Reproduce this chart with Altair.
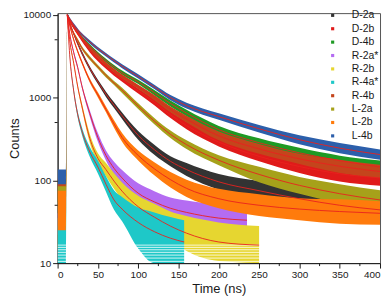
import altair as alt
import pandas as pd

NAMES = ["D-2a", "D-2b", "D-4b", "R-2a*", "R-2b", "R-4a*", "R-4b", "L-2a", "L-2b", "L-4b"]
COLORS = ["#333333", "#e01a1a", "#1e9a24", "#b46cf2", "#e6d630", "#1ec8c8",
          "#c4451c", "#a6a11a", "#ff7b0c", "#2c5fab"]

# time grids (ns)
T = [12, 15, 20, 25, 30, 40, 50, 60, 70, 80, 100, 120, 140, 160, 200, 250, 300, 350, 400]
T_R2A = [12, 15, 20, 25, 30, 40, 50, 60, 70, 80, 100, 120, 140, 160, 200, 235]
T_R2B = [12, 15, 20, 25, 30, 40, 50, 60, 70, 80, 100, 120, 140, 160, 200, 250]
T_R4A = [12, 15, 20, 25, 30, 40, 50, 60, 70, 80, 100, 120, 140, 157]

# pre-pulse baseline (t = 0 .. 10.5 ns), same order as NAMES
BASE_T = [0, 10.5]
BASE_LO = [40, 60, 55, 22, 15, 10, 55, 40, 25, 90]
BASE_HI = [90, 105, 100, 40, 35, 28, 95, 85, 75, 135]

# fitted curves and scatter extent (low / high counts)
D2A_FIT = [10000, 8000, 5900, 4500, 3500, 2250, 1550, 1100, 810, 605, 350, 235, 170, 135, 96, 75, 60, 50, 44]
D2A_LO = [9660, 7690, 5670, 4290, 3330, 2130, 1460, 1020, 747, 553, 310, 204, 148, 113, 77, 58, 44, 36, 30]
D2A_HI = [10350, 8320, 6140, 4730, 3680, 2370, 1640, 1180, 879, 662, 396, 270, 196, 162, 119, 98, 81, 70, 64]

D2B_FIT = [10000, 8500, 7000, 5900, 5000, 3700, 2900, 2350, 1950, 1650, 1200, 880, 620, 460, 290, 195, 147, 120, 107]
D2B_LO = [9660, 8170, 6730, 5670, 4810, 3520, 2750, 2230, 1840, 1560, 1120, 811, 566, 414, 257, 170, 123, 97, 86]
D2B_HI = [10350, 8840, 7280, 6140, 5200, 3890, 3060, 2480, 2070, 1750, 1290, 955, 679, 511, 328, 224, 176, 149, 133]

D4B_FIT = [10000, 8800, 7300, 6300, 5400, 4200, 3400, 2800, 2350, 2000, 1550, 1150, 850, 650, 410, 285, 215, 173, 145]
D4B_LO = [9660, 8500, 7020, 6060, 5190, 4000, 3240, 2650, 2230, 1890, 1460, 1070, 783, 594, 369, 252, 187, 150, 121]
D4B_HI = [10350, 9110, 7590, 6550, 5620, 4410, 3570, 2950, 2480, 2120, 1640, 1240, 922, 712, 455, 322, 247, 199, 174]

R2A_FIT = [10000, 6000, 3500, 2300, 1400, 640, 330, 200, 140, 107, 70, 55, 46, 41, 35, 33]
R2A_LO = [9660, 5770, 3330, 2180, 1320, 584, 292, 174, 117, 86, 53, 41, 34, 29, 24, 23]
R2A_HI = [10350, 6240, 3680, 2430, 1480, 701, 373, 230, 168, 133, 92, 74, 62, 57, 51, 48]

R2B_FIT = [10000, 5000, 2600, 1350, 800, 320, 185, 135, 98, 74, 48, 36, 28, 23, 18, 16.5]
R2B_LO = [9660, 4810, 2460, 1270, 737, 283, 161, 112, 79, 58, 36, 25, 19, 14, 10.6, 10]
R2B_HI = [10350, 5200, 2740, 1430, 868, 362, 213, 162, 122, 94, 65, 52, 42, 37, 31, 28]

R4A_FIT = [10000, 3300, 1200, 620, 400, 220, 145, 90, 58, 45, 31, 24, 20, 18]
R4A_LO = [9660, 3140, 1120, 566, 360, 191, 121, 73, 44, 32, 15, 10, 10, 10]
R4A_HI = [10350, 3470, 1290, 679, 444, 253, 174, 112, 76, 63, 47, 41, 36, 33]

R4B_FIT = [10000, 8600, 7100, 6100, 5200, 3950, 3150, 2550, 2130, 1800, 1350, 1000, 720, 550, 345, 240, 182, 148, 128]
R4B_LO = [9660, 8310, 6830, 5870, 5000, 3760, 3000, 2420, 2020, 1700, 1270, 930, 664, 502, 305, 209, 158, 123, 107]
R4B_HI = [10350, 8900, 7380, 6340, 5410, 4150, 3310, 2690, 2250, 1910, 1430, 1075, 781, 602, 390, 276, 209, 178, 154]

L2A_FIT = [10000, 7800, 6000, 4900, 4000, 3000, 2350, 1850, 1500, 1230, 790, 520, 360, 270, 175, 118, 87, 69, 58]
L2A_LO = [9660, 7500, 5770, 4670, 3810, 2840, 2230, 1750, 1420, 1140, 728, 475, 324, 239, 152, 95, 69, 53, 44]
L2A_HI = [10350, 8110, 6240, 5150, 4200, 3170, 2480, 1960, 1590, 1320, 857, 569, 400, 305, 201, 146, 110, 90, 76]

L2B_FIT = [10000, 7500, 5000, 3600, 2700, 1600, 1080, 720, 480, 330, 200, 138, 102, 80, 60, 50, 45, 42, 40]
L2B_LO = [9660, 7210, 4810, 3430, 2560, 1510, 1005, 664, 432, 292, 174, 115, 82, 63, 46, 37, 33, 30, 29]
L2B_HI = [10350, 7800, 5200, 3780, 2850, 1700, 1160, 781, 533, 373, 230, 166, 126, 102, 79, 68, 61, 59, 56]

L4B_FIT = [10000, 9000, 7600, 6600, 5800, 4700, 3900, 3300, 2800, 2400, 1800, 1350, 1000, 800, 590, 420, 310, 245, 205]
L4B_LO = [9660, 8700, 7310, 6350, 5580, 4480, 3710, 3140, 2650, 2270, 1700, 1270, 930, 737, 539, 378, 274, 213, 178]
L4B_HI = [10350, 9320, 7900, 6860, 6030, 4940, 4100, 3470, 2950, 2530, 1910, 1430, 1075, 868, 646, 466, 350, 282, 236]

# photon-count quantisation gaps near the floor
STRIPE_COUNTS = [10.5, 11.5, 12.5, 13.5, 14.5, 15.5, 16.5]
STRIPE_T = [0, 252]

X_TICKS = [0, 50, 100, 150, 200, 250, 300, 350, 400]
X_MINOR = [25, 75, 125, 175, 225, 275, 325, 375]
Y_TICKS = [10, 100, 1000, 10000]
Y_MINOR = [50, 500, 5000]

SERIES = [
    ("D-2a", T, D2A_FIT, D2A_LO, D2A_HI),
    ("D-2b", T, D2B_FIT, D2B_LO, D2B_HI),
    ("D-4b", T, D4B_FIT, D4B_LO, D4B_HI),
    ("R-2a*", T_R2A, R2A_FIT, R2A_LO, R2A_HI),
    ("R-2b", T_R2B, R2B_FIT, R2B_LO, R2B_HI),
    ("R-4a*", T_R4A, R4A_FIT, R4A_LO, R4A_HI),
    ("R-4b", T, R4B_FIT, R4B_LO, R4B_HI),
    ("L-2a", T, L2A_FIT, L2A_LO, L2A_HI),
    ("L-2b", T, L2B_FIT, L2B_LO, L2B_HI),
    ("L-4b", T, L4B_FIT, L4B_LO, L4B_HI),
]

band_rows, fit_rows = [], []
for i, (name, ts, fit, lo, hi) in enumerate(SERIES):
    for bt in BASE_T:
        band_rows.append({"series": name, "idx": i, "t": bt, "lo": BASE_LO[i], "hi": BASE_HI[i]})
    for t, f, l, h in zip(ts, fit, lo, hi):
        band_rows.append({"series": name, "idx": i, "t": t, "lo": l, "hi": h})
        fit_rows.append({"series": name, "t": t, "fit": f})
band_df = pd.DataFrame(band_rows)
fit_df = pd.DataFrame(fit_rows)
stripe_df = pd.DataFrame({"c": STRIPE_COUNTS, "t0": STRIPE_T[0], "t1": STRIPE_T[1]})
xmin_df = pd.DataFrame({"v": X_MINOR})
ymin_df = pd.DataFrame({"v": Y_MINOR})

FONT = "Liberation Sans"
INK = "#1a1a1a"
H = 252

xs = alt.Scale(domain=[0, 400], nice=False, zero=False)
ys = alt.Scale(type="log", domain=[10, 10500], nice=False)

x_axis = alt.Axis(values=X_TICKS, format="d", tickSize=5, labelFontSize=10, titleFontSize=13,
                  titleFontWeight="normal", labelPadding=2, titlePadding=3, grid=False,
                  domainColor=INK, tickColor=INK, labelColor=INK, titleColor=INK,
                  labelFont=FONT, titleFont=FONT)
y_axis = alt.Axis(values=Y_TICKS, format="d", tickSize=5, labelFontSize=10, titleFontSize=13,
                  titleFontWeight="normal", labelPadding=2, titlePadding=2, grid=False,
                  domainColor=INK, tickColor=INK, labelColor=INK, titleColor=INK,
                  labelFont=FONT, titleFont=FONT)

bands = alt.Chart(band_df).mark_area(clip=True, interpolate="monotone").encode(
    x=alt.X("t:Q", scale=xs, axis=x_axis, title="Time (ns)"),
    y=alt.Y("lo:Q", scale=ys, axis=y_axis, title="Counts", stack=None),
    y2="hi:Q",
    color=alt.Color("series:N", scale=alt.Scale(domain=NAMES, range=COLORS),
                    legend=alt.Legend(title=None, orient="none", legendX=272, legendY=-3,
                                      symbolType="square", symbolSize=10, symbolStrokeWidth=0,
                                      labelFontSize=10.5, labelFont=FONT, labelColor=INK,
                                      labelOffset=14, rowPadding=2.5, padding=0)),
    order=alt.Order("idx:Q"),
)

stripes = alt.Chart(stripe_df).mark_rule(color="white", strokeWidth=0.8, clip=True).encode(
    x=alt.X("t0:Q", scale=xs, title="Time (ns)"),
    x2="t1:Q",
    y=alt.Y("c:Q", scale=ys, title="Counts"),
)

fits = alt.Chart(fit_df).mark_line(clip=True, color="#e8221e", strokeWidth=0.9,
                                   interpolate="monotone").encode(
    x=alt.X("t:Q", scale=xs, title="Time (ns)"),
    y=alt.Y("fit:Q", scale=ys, title="Counts"),
    detail="series:N",
)

yminor = alt.Chart(ymin_df).mark_rule(color=INK).encode(
    y=alt.Y("v:Q", scale=ys, title="Counts"),
    x=alt.value(-3), x2=alt.value(0),
)
xminor = alt.Chart(xmin_df).mark_rule(color=INK).encode(
    x=alt.X("v:Q", scale=xs, title="Time (ns)"),
    y=alt.value(H), y2=alt.value(H + 3),
)

chart = alt.layer(bands, stripes, fits, yminor, xminor).properties(
    width=325, height=H,
    padding={"left": 0, "top": 0, "right": 2, "bottom": 0},
).configure(font=FONT).configure_view(stroke="#555555", strokeWidth=1)

chart.save("out.html", embed_options={"renderer": "svg", "actions": False})
